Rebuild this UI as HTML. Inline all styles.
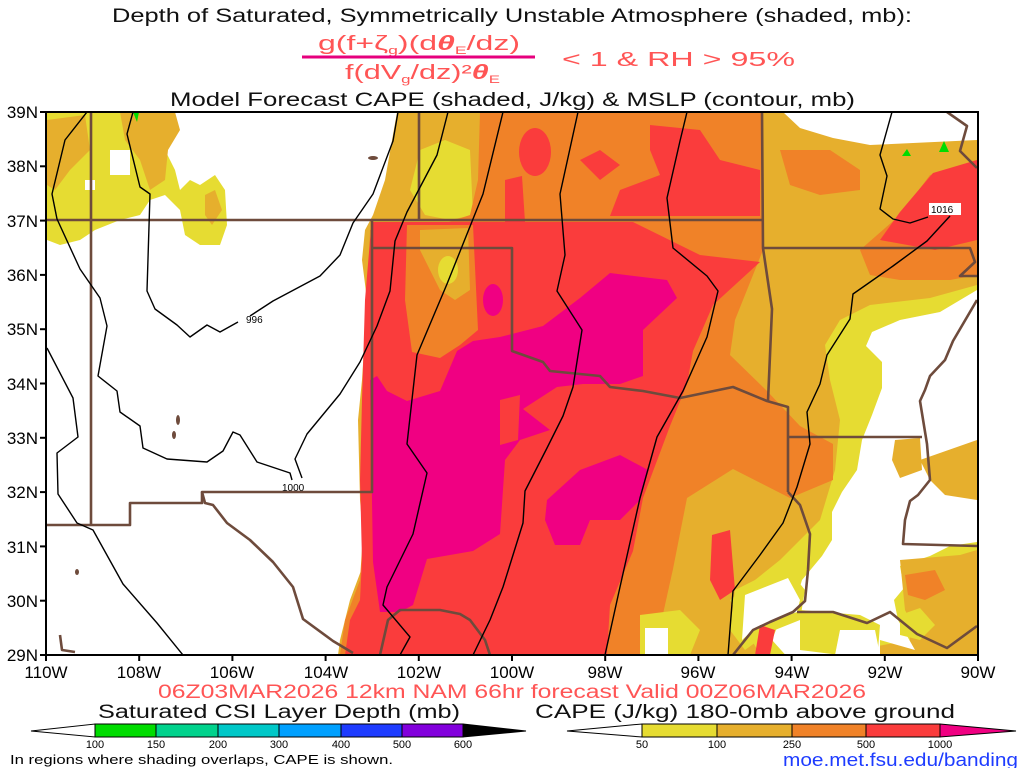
<!DOCTYPE html>
<html><head><meta charset="utf-8"><style>
html,body{margin:0;padding:0;background:#fff;}
svg{display:block;font-family:"Liberation Sans",sans-serif;}
</style></head><body>
<svg width="1024" height="768" viewBox="0 0 1024 768" xmlns="http://www.w3.org/2000/svg">
<rect width="1024" height="768" fill="#fff"/>
<text x="112" y="22" font-size="19" textLength="800" lengthAdjust="spacingAndGlyphs" fill="#111">Depth of Saturated, Symmetrically Unstable Atmosphere (shaded, mb):</text>
<text x="318" y="50" font-size="20" textLength="202" lengthAdjust="spacingAndGlyphs" fill="#ff5555">g(f+ζ<tspan font-size="11" dy="4">g</tspan><tspan dy="-4">)(d</tspan><tspan font-weight="bold" font-style="italic">θ</tspan><tspan font-size="11" dy="4">E</tspan><tspan dy="-4">/dz)</tspan></text>
<line x1="302" y1="57" x2="535" y2="57" stroke="#e6007d" stroke-width="3"/>
<text x="345" y="79" font-size="20" textLength="155" lengthAdjust="spacingAndGlyphs" fill="#ff5555">f(dV<tspan font-size="11" dy="4">g</tspan><tspan dy="-4">/dz)²</tspan><tspan font-weight="bold" font-style="italic">θ</tspan><tspan font-size="11" dy="4">E</tspan></text>
<text x="562" y="66" font-size="20" textLength="233" lengthAdjust="spacingAndGlyphs" fill="#ff5555">&lt; 1 &amp; RH &gt; 95%</text>
<text x="170" y="106" font-size="19" textLength="685" lengthAdjust="spacingAndGlyphs" fill="#111">Model Forecast CAPE (shaded, J/kg) &amp; MSLP (contour, mb)</text>

<defs><clipPath id="c"><rect x="46" y="112" width="932" height="543"/></clipPath></defs>
<g clip-path="url(#c)">
<polygon fill="#e6af2d" points="397,112 783,112 800,128 833,138 870,145 977,140 980,655 338,655 340,640 350,600 365,560 360,500 358,420 362,380 367,300 362,260 365,230 373,215 385,180"/>
<polygon fill="#e6dc32" points="420,150 445,140 470,150 473,215 450,220 425,215 410,190"/>
<polygon fill="#e6dc32" points="840,320 870,305 930,298 977,285 977,560 940,560 905,600 910,640 830,655 760,655 730,600 780,560 820,520 835,470 840,420 830,380 825,345"/>
<polygon fill="#fff" points="977,290 940,312 900,320 872,332 866,346 882,362 882,388 872,415 862,440 857,470 842,492 832,512 832,540 822,556 802,580 796,600 782,615 772,640 790,660 880,660 880,640 915,650 898,620 894,600 904,588 900,566 930,556 950,546 977,542"/>
<polygon fill="#e6af2d" points="895,440 920,438 922,470 900,478 892,460"/>
<polygon fill="#e6af2d" points="900,560 960,555 977,550 977,655 950,655 920,640 905,610"/>
<polygon fill="#f08228" points="905,575 935,570 945,590 925,600 908,595"/>
<polygon fill="#e6dc32" points="900,615 920,608 935,625 920,640 900,635"/>
<polygon fill="#e6af2d" points="920,460 977,440 977,500 945,495 930,480"/>
<polygon fill="#e6dc32" points="800,610 860,615 880,625 878,650 840,655 800,650"/>
<polygon fill="#fff" points="840,630 875,630 880,655 835,655"/>
<polygon fill="#e6dc32" points="735,590 785,565 805,590 800,620 770,632 745,650 730,630"/>
<polygon fill="#fff" points="745,595 788,578 800,600 797,612 770,622 753,630 742,640"/>
<polygon fill="#f08228" points="480,112 762,112 763,250 735,320 730,355 767,391 800,426 833,444 833,480 790,498 733,469 687,498 673,569 657,641 653,655 340,655 345,620 360,580 365,500 362,420 368,300 370,230 400,222 440,225 470,215 478,180"/>
<polygon fill="#f08228" points="860,250 900,215 930,175 977,160 977,275 950,280 900,280 870,275"/>
<polygon fill="#f08228" points="780,150 830,150 860,170 860,190 820,195 790,185"/>
<polygon fill="#fa3c3c" points="373,222 500,222 633,222 700,255 760,262 713,305 693,351 687,384 670,426 643,498 633,551 610,605 607,655 345,655 350,620 360,600 362,560 360,480 362,400 365,300 370,240"/>
<polygon fill="#fa3c3c" points="880,240 900,212 933,173 977,160 977,240 935,250"/>
<polygon fill="#f08228" points="407,225 473,225 478,330 460,345 440,358 412,352 405,300"/>
<polygon fill="#e6af2d" points="420,230 468,228 470,290 455,300 440,290 430,270 420,250"/>
<ellipse cx="448" cy="270" rx="10" ry="14" fill="#e6dc32"/>
<ellipse cx="535" cy="152" rx="16" ry="24" fill="#fa3c3c"/>
<polygon fill="#fa3c3c" points="650,125 700,130 720,160 760,170 760,216 610,216 620,190 660,175 650,150"/>
<polygon fill="#fa3c3c" points="505,180 522,176 525,222 505,222"/>
<polygon fill="#fa3c3c" points="580,160 600,150 620,165 600,180"/>
<polygon fill="#fa3c3c" points="712,535 730,530 735,590 720,600 710,580"/>
<polygon fill="#e6dc32" points="640,615 680,610 700,630 690,655 640,655"/>
<polygon fill="#fff" points="645,628 668,628 668,655 645,655"/>
<polygon fill="#fa3c3c" points="760,625 775,630 770,655 755,655"/>
<polygon fill="#f00082" points="370,380 377,376 387,391 407,401 440,391 457,351 473,341 500,337 543,326 580,298 610,273 667,280 677,298 643,330 643,376 620,384 583,384 557,387 523,409 550,430 520,440 505,460 500,534 473,551 427,559 413,605 400,612 380,612 373,562"/>
<polygon fill="#f00082" points="547,500 580,470 620,455 648,470 640,500 620,520 590,520 580,545 555,545 545,520"/>
<ellipse cx="493" cy="300" rx="10" ry="16" fill="#f00082"/>
<polygon fill="#fa3c3c" points="500,400 520,395 518,440 500,445"/>
<polygon fill="#e6dc32" points="47,112 120,112 135,125 145,140 165,150 175,170 180,190 190,180 200,185 215,175 225,190 227,225 220,245 200,245 185,235 180,210 165,195 150,200 140,215 120,220 95,230 80,240 60,245 47,240"/>
<polygon fill="#e6af2d" points="120,112 175,112 180,130 168,150 165,180 150,190 140,160 125,140"/>
<polygon fill="#e6af2d" points="47,120 85,115 90,150 70,170 55,190 47,185"/>
<polygon fill="#e6af2d" points="205,195 215,190 222,210 212,225 205,215"/>
<rect x="85" y="180" width="10" height="10" fill="#fff"/>
<rect x="110" y="150" width="20" height="25" fill="#fff"/>
<polygon fill="#00dc00" points="133,112 139,112 137,122"/>
<polygon fill="#00dc00" points="902,156 907,149 911,156"/>
<polygon fill="#00dc00" points="939,152 944,141 949,152"/>
</g>
<g fill="none" stroke="#6e4b3c" stroke-width="2.6" stroke-linejoin="round" clip-path="url(#c)">
<polyline points="46,220 762,220"/>
<polyline points="91,112 91,525"/>
<polyline points="46,525 130,525 130,503 202,503 202,492 372,492 372,220"/>
<polyline points="372,248 512,248 512,351 543,362 550,371 600,376 610,387 643,391 680,398 733,387 767,401 788,407 788,492"/>
<polyline points="419,112 419,220"/>
<polyline points="762,112 763,248 772,309 768,401"/>
<polyline points="763,248 970,248 975,262 960,276 977,276"/>
<polyline points="788,437 922,437"/>
<polyline points="977,300 953,341 945,360 930,376 925,390 920,401 927,444 930,480 918,495 910,501 905,520 903,544 977,546"/>
<polyline points="788,492 800,505 810,534 808,570 805,601 793,612 770,622 753,630 733,655"/>
<polyline points="797,612 833,612 867,623 890,612 917,634 947,648 977,626"/>
<polyline points="947,112 967,126 960,151 977,168"/>
<polyline points="202,492 205,503 213,505 227,523 250,540 273,562 293,587 303,619 333,641 353,653"/>
<polyline points="380,655 388,620 400,610 440,610 460,614 470,620 485,640 490,655"/>
<polyline points="60,635 62,650 75,652"/>
</g>
<g fill="#6e4b3c" clip-path="url(#c)">
<ellipse cx="373" cy="158" rx="5" ry="2"/><ellipse cx="178" cy="420" rx="2" ry="5"/><ellipse cx="174" cy="435" rx="2" ry="4"/><ellipse cx="77" cy="572" rx="2" ry="3"/>
</g>
<g fill="none" stroke="#000" stroke-width="1.4" stroke-linejoin="round" clip-path="url(#c)">
<polyline points="398,112 393,141 373,194 353,223 340,255 320,276 273,301 250,316"/>
<polyline points="238,322 220,332 207,325 190,337 177,325 155,309 147,291 150,194 140,187 127,134 133,112"/>
<polyline points="87,112 65,140 52,194 57,219 80,269 100,298 107,326 98,376 117,391 120,412 140,426 143,448 167,459 207,462 223,451 233,432 240,435 257,462 290,473 292,480"/>
<polyline points="302,478 295,459 307,434 340,394 360,362 377,326 390,291 395,241 407,212 437,155 448,112"/>
<polyline points="47,348 73,398 78,437 57,453 58,494 77,523 93,530 123,584 157,623 187,660"/>
<polyline points="503,112 483,194 447,284 417,355 407,444 427,473 413,534 387,587 383,605 410,637 400,655"/>
<polyline points="578,112 560,194 565,255 557,291 582,330 573,387 563,416 547,448 525,491 523,523 503,587 490,620 473,655"/>
<polyline points="687,112 680,141 667,198 673,248 707,276 718,291 707,337 683,391 657,437 640,498 620,587 605,655"/>
<polyline points="892,112 880,155 887,176 880,209 893,219 910,223 928,217"/>
<polyline points="950,216 927,241 893,266 853,294 850,319 827,355 820,384 807,412 810,444 797,487 783,523 760,555 733,591 728,655"/>
</g>
<text x="246" y="323" font-size="10" fill="#000">996</text>
<text x="282" y="491" font-size="10" fill="#000">1000</text>
<rect x="929" y="203" width="32" height="12" fill="#fff"/>
<text x="931" y="213" font-size="10" fill="#000">1016</text>
<rect x="46" y="112" width="932" height="543" fill="none" stroke="#000" stroke-width="2"/>
<g stroke="#000" stroke-width="2">
<line x1="40" y1="112" x2="46" y2="112"/><line x1="40" y1="166.3" x2="46" y2="166.3"/><line x1="40" y1="220.6" x2="46" y2="220.6"/><line x1="40" y1="274.9" x2="46" y2="274.9"/><line x1="40" y1="329.2" x2="46" y2="329.2"/><line x1="40" y1="383.5" x2="46" y2="383.5"/><line x1="40" y1="437.8" x2="46" y2="437.8"/><line x1="40" y1="492.1" x2="46" y2="492.1"/><line x1="40" y1="546.4" x2="46" y2="546.4"/><line x1="40" y1="600.7" x2="46" y2="600.7"/><line x1="40" y1="655" x2="46" y2="655"/>
<line x1="46" y1="655" x2="46" y2="661"/><line x1="139.2" y1="655" x2="139.2" y2="661"/><line x1="232.4" y1="655" x2="232.4" y2="661"/><line x1="325.6" y1="655" x2="325.6" y2="661"/><line x1="418.8" y1="655" x2="418.8" y2="661"/><line x1="512" y1="655" x2="512" y2="661"/><line x1="605.2" y1="655" x2="605.2" y2="661"/><line x1="698.4" y1="655" x2="698.4" y2="661"/><line x1="791.6" y1="655" x2="791.6" y2="661"/><line x1="884.8" y1="655" x2="884.8" y2="661"/><line x1="978" y1="655" x2="978" y2="661"/>
</g>
<g font-size="17" fill="#000" text-anchor="end">
<text x="38" y="118">39N</text><text x="38" y="172">38N</text><text x="38" y="227">37N</text><text x="38" y="281">36N</text><text x="38" y="335">35N</text><text x="38" y="390">34N</text><text x="38" y="444">33N</text><text x="38" y="498">32N</text><text x="38" y="553">31N</text><text x="38" y="607">30N</text><text x="38" y="661">29N</text>
</g>
<g font-size="17" fill="#000" text-anchor="middle">
<text x="46" y="678">110W</text><text x="139" y="678">108W</text><text x="232" y="678">106W</text><text x="326" y="678">104W</text><text x="419" y="678">102W</text><text x="512" y="678">100W</text><text x="605" y="678">98W</text><text x="698" y="678">96W</text><text x="792" y="678">94W</text><text x="885" y="678">92W</text><text x="978" y="678">90W</text>
</g>
<text x="158" y="698" font-size="19" textLength="708" lengthAdjust="spacingAndGlyphs" fill="#ff5555">06Z03MAR2026 12km NAM 66hr forecast Valid 00Z06MAR2026</text>
<text x="98" y="718" font-size="19" textLength="362" lengthAdjust="spacingAndGlyphs" fill="#111">Saturated CSI Layer Depth (mb)</text>
<text x="535" y="718" font-size="19" textLength="420" lengthAdjust="spacingAndGlyphs" fill="#111">CAPE (J/kg) 180-0mb above ground</text>
<g stroke="#000" stroke-width="1">
<polygon points="31,731 95,724 95,737" fill="#fff"/>
<rect x="95" y="724" width="61" height="13" fill="#00dc00"/>
<rect x="156" y="724" width="62" height="13" fill="#00d28c"/>
<rect x="218" y="724" width="61" height="13" fill="#00c8c8"/>
<rect x="279" y="724" width="62" height="13" fill="#00a0ff"/>
<rect x="341" y="724" width="61" height="13" fill="#1e3cff"/>
<rect x="402" y="724" width="61" height="13" fill="#8200dc"/>
<polygon points="463,724 526,731 463,737" fill="#000"/>
<polygon points="567,731 642,724 642,737" fill="#fff"/>
<rect x="642" y="724" width="75" height="13" fill="#e6dc32"/>
<rect x="717" y="724" width="75" height="13" fill="#e6af2d"/>
<rect x="792" y="724" width="74" height="13" fill="#f08228"/>
<rect x="866" y="724" width="74" height="13" fill="#fa3c3c"/>
<polygon points="940,724 1016,731 940,737" fill="#f00082"/>
</g>
<g font-size="11" fill="#000" text-anchor="middle">
<text x="95" y="748">100</text><text x="156" y="748">150</text><text x="218" y="748">200</text><text x="279" y="748">300</text><text x="341" y="748">400</text><text x="402" y="748">500</text><text x="463" y="748">600</text>
<text x="642" y="748">50</text><text x="717" y="748">100</text><text x="792" y="748">250</text><text x="866" y="748">500</text><text x="940" y="748">1000</text>
</g>
<text x="10" y="764" font-size="13" textLength="383" lengthAdjust="spacingAndGlyphs" fill="#000">In regions where shading overlaps, CAPE is shown.</text>
<text x="783" y="766" font-size="18" textLength="235" lengthAdjust="spacingAndGlyphs" fill="#1e3cff">moe.met.fsu.edu/banding</text>
</svg>
</body></html>
